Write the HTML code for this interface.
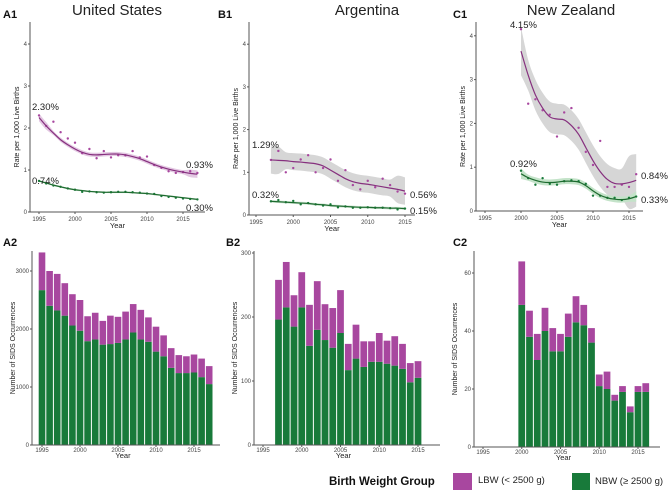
<!DOCTYPE html>
<html><head><meta charset="utf-8"><style>
body{margin:0;background:#fff;font-family:"Liberation Sans",sans-serif}
svg{display:block}
</style></head><body>
<svg id="fig" width="669" height="492" xmlns="http://www.w3.org/2000/svg" font-family="Liberation Sans, sans-serif"></svg>
<script>
// ---- data ----
const usYears=[1995,1996,1997,1998,1999,2000,2001,2002,2003,2004,2005,2006,2007,2008,2009,2010,2011,2012,2013,2014,2015,2016,2017];
const usLbwRate=[2.30,2.05,2.15,1.9,1.75,1.65,1.4,1.5,1.28,1.45,1.3,1.35,1.35,1.45,1.3,1.32,1.12,1.05,0.97,0.93,0.95,0.97,0.93];
const usLbwFit=[2.25,2.05,1.88,1.72,1.6,1.5,1.42,1.37,1.36,1.37,1.38,1.38,1.36,1.32,1.27,1.2,1.13,1.07,1.02,0.98,0.95,0.92,0.9];
const usNbwRate=[0.74,0.68,0.63,0.6,0.56,0.53,0.48,0.49,0.47,0.46,0.47,0.48,0.48,0.47,0.46,0.44,0.43,0.38,0.36,0.34,0.32,0.31,0.30];
const usNbwFit=[0.74,0.69,0.64,0.6,0.56,0.53,0.51,0.49,0.48,0.47,0.47,0.47,0.47,0.46,0.45,0.44,0.42,0.4,0.38,0.36,0.34,0.32,0.30];
const usTotal=[3320,3000,2950,2790,2600,2500,2220,2280,2140,2230,2210,2300,2430,2330,2200,2040,1890,1670,1550,1530,1560,1490,1360];
const usNbwCount=[2670,2400,2320,2230,2060,1970,1790,1820,1730,1740,1760,1820,1940,1820,1780,1610,1530,1330,1240,1240,1250,1170,1050];

const arYears=[1997,1998,1999,2000,2001,2002,2003,2004,2005,2006,2007,2008,2009,2010,2011,2012,2013,2014,2015];
const arLbwRate=[1.29,1.5,1.0,1.1,1.3,1.4,1.0,1.1,1.3,0.8,1.05,0.7,0.6,0.8,0.65,0.85,0.7,0.55,0.5];
const arLbwFit=[1.29,1.28,1.27,1.25,1.24,1.22,1.2,1.15,1.05,0.95,0.85,0.78,0.74,0.72,0.69,0.66,0.63,0.6,0.56];
const arNbwRate=[0.32,0.35,0.3,0.33,0.25,0.28,0.25,0.22,0.25,0.18,0.2,0.17,0.17,0.18,0.17,0.17,0.16,0.13,0.15];
const arNbwFit=[0.32,0.31,0.3,0.29,0.28,0.27,0.25,0.24,0.22,0.21,0.2,0.19,0.18,0.18,0.17,0.17,0.16,0.16,0.15];
const arTotal=[258,286,234,270,219,256,220,214,242,158,188,162,162,175,163,170,158,128,131];
const arNbwCount=[196,215,185,215,155,180,164,152,175,117,135,122,130,130,127,124,119,98,105];

const nzYears=[2000,2001,2002,2003,2004,2005,2006,2007,2008,2009,2010,2011,2012,2013,2014,2015,2016];
const nzLbwRate=[4.15,2.45,2.55,2.3,2.2,1.7,2.25,2.35,1.9,1.35,1.05,1.6,0.55,0.55,0.6,0.55,0.84];
const nzLbwFit=[3.65,3.1,2.65,2.35,2.15,2.1,2.08,1.95,1.75,1.45,1.15,0.9,0.72,0.63,0.62,0.65,0.7];
const nzNbwRate=[0.92,0.75,0.6,0.75,0.62,0.6,0.68,0.7,0.68,0.62,0.35,0.35,0.3,0.3,0.25,0.3,0.33];
const nzNbwFit=[0.85,0.76,0.7,0.66,0.65,0.66,0.68,0.68,0.66,0.58,0.46,0.36,0.3,0.27,0.26,0.28,0.33];
const nzTotal=[64,47,39,48,41,39,46,52,49,41,25,26,18,21,14,21,22];
const nzNbwCount=[49,38,30,40,33,33,38,43,42,36,21,20,16,19,12,19,19];

const yearTicks=[1995,2000,2005,2010,2015];
const rateTicks=[0,1,2,3,4];

const LBW='#a8479f',NBW='#187a3a',LBWL='#86307e',NBWL='#1d6b2f';
const NS='http://www.w3.org/2000/svg';
const svg=document.getElementById('fig');
function el(t,a,p){const e=document.createElementNS(NS,t);for(const k in a)e.setAttribute(k,a[k]);(p||svg).appendChild(e);return e;}
function txt(s,a,p){const e=el('text',a,p);e.textContent=s;return e;}
function spline(pts){let d='M'+pts[0][0]+','+pts[0][1];for(let i=0;i<pts.length-1;i++){const p0=pts[i-1]||pts[i],p1=pts[i],p2=pts[i+1],p3=pts[i+2]||p2;d+=' C'+(p1[0]+(p2[0]-p0[0])/6)+','+(p1[1]+(p2[1]-p0[1])/6)+' '+(p2[0]-(p3[0]-p1[0])/6)+','+(p2[1]-(p3[1]-p1[1])/6)+' '+p2[0]+','+p2[1];}return d;}

function rateChart(o){
  const g=el('g',{});
  
  
  const X=v=>o.x0+(v-1995)*o.xs, Y=v=>o.y0-v*o.ys;
  el('line',{x1:o.ax,y1:22,x2:o.ax,y2:o.y0,stroke:'#555','stroke-width':1},g);
  el('line',{x1:o.ax,y1:o.y0,x2:o.axEnd,y2:o.y0,stroke:'#555','stroke-width':1},g);
  rateTicks.forEach(t=>{el('line',{x1:o.ax-2,x2:o.ax,y1:Y(t),y2:Y(t),stroke:'#555'},g);
    const l=txt(t,{x:o.ax-3,y:Y(t)+2,'font-size':6,'text-anchor':'end',fill:'#444'},g);
    });
  yearTicks.forEach(t=>{el('line',{x1:X(t),x2:X(t),y1:o.y0,y2:o.y0+2,stroke:'#555'},g);
    const l=txt(t,{x:X(t),y:o.y0+9,'font-size':6,'text-anchor':'middle',fill:'#444'},g);
    });
  const xt=txt('Year',{x:(o.ax+o.axEnd)/2,y:o.y0+16,'font-size':7.5,'text-anchor':'middle',fill:'#222'},g);
  
  const yt=txt('Rate per 1,000 Live Births',{x:0,y:0,'font-size':7,'text-anchor':'middle',fill:'#222',transform:`translate(${o.ax-11},${(22+o.y0)/2+10}) rotate(-90)`},g);
  
  [[o.lbwFit,o.lbwRate,LBW,LBWL,o.lbwBand,o.lbwCi],[o.nbwFit,o.nbwRate,NBW,NBWL,o.nbwBand,o.nbwCi]].forEach(([fit,rate,pc,lc,band,ci],si)=>{
    const up=fit.map((v,i)=>[X(o.years[i]),Y(v+ci[i])]), dn=fit.map((v,i)=>[X(o.years[i]),Y(Math.max(0,v-ci[i]))]).reverse();
    const b=el('path',{d:spline(up)+' L'+dn[0][0]+','+dn[0][1]+spline(dn).replace('M',' L')+'Z',fill:band,stroke:'none'},g);
    
    rate.forEach((v,i)=>{const c=el('circle',{cx:X(o.years[i]),cy:Y(v),r:1.2,fill:pc},g);
      });
    const p=el('path',{d:spline(fit.map((v,i)=>[X(o.years[i]),Y(v)])),fill:'none',stroke:lc,'stroke-width':1.2},g);
    
  });
  o.labels.forEach(l=>{const t=txt(l[0],{x:l[1],y:l[2],'font-size':9.5,fill:'#222'},g);
    });
}
function barChart(o){
  const g=el('g',{});
  
  
  const X=v=>o.x0+(v-1995)*o.xs, Y=v=>o.y0-v*o.ys;
  const bw=o.xs-1;
  o.years.forEach((yr,i)=>{
    const n=el('rect',{x:X(yr)-bw/2,y:Y(o.nbw[i]),width:bw,height:o.nbw[i]*o.ys,fill:NBW},g);
    
    const l=el('rect',{x:X(yr)-bw/2,y:Y(o.total[i]),width:bw,height:(o.total[i]-o.nbw[i])*o.ys,fill:LBW},g);
    
  });
  el('line',{x1:o.ax,y1:251,x2:o.ax,y2:o.y0,stroke:'#555'},g);
  el('line',{x1:o.ax,y1:o.y0,x2:o.axEnd,y2:o.y0,stroke:'#555'},g);
  o.ticks.forEach(t=>{el('line',{x1:o.ax-2,x2:o.ax,y1:Y(t),y2:Y(t),stroke:'#555'},g);
    const l=txt(t,{x:o.ax-3,y:Y(t)+2,'font-size':6,'text-anchor':'end',fill:'#444'},g);
    });
  yearTicks.forEach(t=>{el('line',{x1:X(t),x2:X(t),y1:o.y0,y2:o.y0+2,stroke:'#555'},g);
    const l=txt(t,{x:X(t),y:o.y0+7,'font-size':6,'text-anchor':'middle',fill:'#444'},g);
    });
  const xt=txt('Year',{x:(o.x0+o.axEnd)/2-8,y:o.y0+13,'font-size':7.5,'text-anchor':'middle',fill:'#222'},g);
  
  const yt=txt('Number of SIDS Occurrences',{x:0,y:0,'font-size':7,'text-anchor':'middle',fill:'#222',transform:`translate(${o.ax-17},${(251+o.y0)/2}) rotate(-90)`},g);
  
}
const ciUs=usLbwFit.map((v,i)=>i<2||i>20?0.09:0.05), ciUsN=usNbwFit.map(()=>0.02);
const ciAr=arLbwFit.map((v,i)=>i<2||i>16?0.32:0.2), ciArN=arNbwFit.map(()=>0.03);
const ciNz=nzLbwFit.map((v,i)=>i<1?0.55:(i>14?0.6:0.35)), ciNzN=nzNbwFit.map((v,i)=>i<1||i>15?0.12:0.07);
rateChart({name:'chart-a1-united-states-rate',ax:30,axEnd:205,x0:39,xs:7.2,y0:212,ys:42,years:usYears,lbwRate:usLbwRate,lbwFit:usLbwFit,nbwRate:usNbwRate,nbwFit:usNbwFit,lbwBand:'#e3c8e2',nbwBand:'#cfe6d3',lbwCi:ciUs,nbwCi:ciUsN,
 labels:[['2.30%',32,110],['0.93%',186,168],['0.74%',32,184],['0.30%',186,211]]});
rateChart({name:'chart-b1-argentina-rate',ax:249,axEnd:415,x0:256,xs:7.45,y0:215,ys:42.7,years:arYears,lbwRate:arLbwRate,lbwFit:arLbwFit,nbwRate:arNbwRate,nbwFit:arNbwFit,lbwBand:'#d6d6d6',nbwBand:'#cfe6d3',lbwCi:ciAr,nbwCi:ciArN,
 labels:[['1.29%',252,148],['0.56%',410,198],['0.32%',252,198],['0.15%',410,214]]});
rateChart({name:'chart-c1-new-zealand-rate',ax:476,axEnd:643,x0:485,xs:7.2,y0:211,ys:43.8,years:nzYears,lbwRate:nzLbwRate,lbwFit:nzLbwFit,nbwRate:nzNbwRate,nbwFit:nzNbwFit,lbwBand:'#d6d6d6',nbwBand:'#c4e3c9',lbwCi:ciNz,nbwCi:ciNzN,
 labels:[['4.15%',510,28],['0.84%',641,179],['0.92%',510,167],['0.33%',641,203]]});
barChart({name:'chart-a2-united-states-counts',ax:32,axEnd:220,x0:42,xs:7.6,y0:445,ys:174/3000,years:usYears,total:usTotal,nbw:usNbwCount,ticks:[0,1000,2000,3000]});
barChart({name:'chart-b2-argentina-counts',ax:254,axEnd:440,x0:263,xs:7.75,y0:445,ys:0.64,years:arYears,total:arTotal,nbw:arNbwCount,ticks:[0,100,200,300]});
barChart({name:'chart-c2-new-zealand-counts',ax:474,axEnd:660,x0:483,xs:7.75,y0:447,ys:2.9,years:nzYears,total:nzTotal,nbw:nzNbwCount,ticks:[0,20,40,60]});
// titles & panel labels
[['United States',117],['Argentina',367],['New Zealand',571]].forEach(t=>{const e=txt(t[0],{x:t[1],y:15,'font-size':15,'text-anchor':'middle',fill:'#222'});
 });
[['A1',3,18],['B1',218,18],['C1',453,18],['A2',3,246],['B2',226,246],['C2',453,246]].forEach(t=>{const e=txt(t[0],{x:t[1],y:t[2],'font-size':11,'font-weight':'bold',fill:'#111'});
 });
// legend
const lg=el('g',{});


const lt=txt('Birth Weight Group',{x:329,y:485,'font-size':11.5,'font-weight':'bold',fill:'#111'},lg);

const r1=el('rect',{x:453,y:473,width:19,height:17,fill:LBW},lg);

const t1=txt('LBW (< 2500 g)',{x:478,y:483,'font-size':9.5,fill:'#222'},lg);

const r2=el('rect',{x:572,y:473,width:18,height:17,fill:NBW},lg);

const t2=txt('NBW (≥ 2500 g)',{x:595,y:484,'font-size':9.5,fill:'#222'},lg);

</script>
</body></html>
